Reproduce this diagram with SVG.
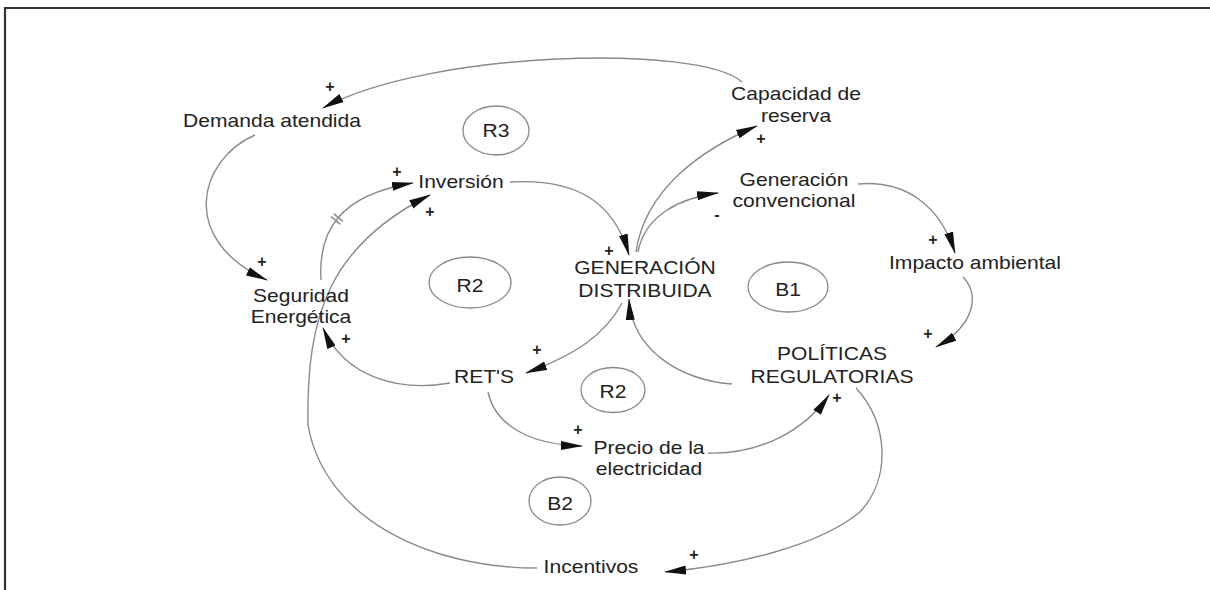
<svg xmlns="http://www.w3.org/2000/svg" width="1210" height="590" viewBox="0 0 1210 590">
<style>
.t{font-family:"Liberation Sans",Arial,sans-serif;font-size:18px;fill:#222;text-anchor:middle}
.s{font-family:"Liberation Sans",Arial,sans-serif;font-size:16px;font-weight:bold;fill:#222;text-anchor:middle}
.c{fill:none;stroke:#8a8a8a;stroke-width:1.4}
.loop{fill:none;stroke:#8a8a8a;stroke-width:1.3}
</style>
<defs>
<marker id="ah" markerUnits="userSpaceOnUse" markerWidth="22" markerHeight="10" viewBox="0 0 22 10" refX="21" refY="5" orient="auto">
<path d="M0,0.5 L22,5 L0,9.5 Z" fill="#111"/>
</marker>
</defs>
<rect width="1210" height="590" fill="#fff"/>
<path d="M5,590 V8 H1210" fill="none" stroke="#333" stroke-width="2.2"/>

<g id="connectors">
<path class="c" marker-end="url(#ah)" d="M742,82 C700,44 430,50 323,108"/>
<path class="c" marker-end="url(#ah)" d="M255,135 C198,160 178,240 267,280"/>
<path class="c" marker-end="url(#ah)" d="M321,280 C318,230 340,195 413,183"/>
<path class="c" d="M333.7,213.6 L342.9,221.4 M331.1,216.6 L340.3,224.4"/>
<path class="c" marker-end="url(#ah)" d="M537,568 C430,568 325,520 308,425 C306,315 330,245 430,195"/>
<path class="c" marker-end="url(#ah)" d="M450,383 C400,392 345,378 323,328"/>
<path class="c" marker-end="url(#ah)" d="M510,182 C580,178 615,205 629,255"/>
<path class="c" marker-end="url(#ah)" d="M636,252 C645,190 700,150 757,126"/>
<path class="c" marker-end="url(#ah)" d="M638,252 C645,215 680,198 718,193"/>
<path class="c" marker-end="url(#ah)" d="M858,184 C905,180 940,205 955,253"/>
<path class="c" marker-end="url(#ah)" d="M963,277 C980,295 975,325 936,347"/>
<path class="c" marker-end="url(#ah)" d="M732,384 C680,380 632,350 629,299"/>
<path class="c" marker-end="url(#ah)" d="M622,303 C605,335 575,355 526,373"/>
<path class="c" marker-end="url(#ah)" d="M488,392 C495,425 530,445 582,446"/>
<path class="c" marker-end="url(#ah)" d="M708,453 C760,455 805,430 829,395"/>
<path class="c" marker-end="url(#ah)" d="M856,388 C890,425 890,480 860,512 C820,545 740,565 665,572"/>
</g>

<g id="signs">
<text class="s" x="330" y="92">+</text>
<text class="s" x="262" y="267">+</text>
<text class="s" x="397" y="177">+</text>
<text class="s" x="430" y="217">+</text>
<text class="s" x="609" y="256">+</text>
<text class="s" x="761" y="144">+</text>
<text class="s" x="717" y="220">-</text>
<text class="s" x="933" y="245">+</text>
<text class="s" x="928" y="339">+</text>
<text class="s" x="346" y="344">+</text>
<text class="s" x="537" y="355">+</text>
<text class="s" x="578" y="435">+</text>
<text class="s" x="837" y="403">+</text>
<text class="s" x="694" y="560">+</text>
</g>

<g id="loop-R3"><ellipse class="loop" cx="496" cy="130.5" rx="33" ry="24.5"/><text class="t" transform="translate(496,137) scale(1.17,1)">R3</text></g>
<g id="loop-R2a"><ellipse class="loop" cx="470" cy="282.5" rx="41" ry="25.5"/><text class="t" transform="translate(470,292) scale(1.17,1)">R2</text></g>
<g id="loop-B1"><ellipse class="loop" cx="788" cy="287" rx="40" ry="25"/><text class="t" transform="translate(788,296) scale(1.17,1)">B1</text></g>
<g id="loop-R2b"><ellipse class="loop" cx="613" cy="390" rx="32" ry="22.5"/><text class="t" transform="translate(613,398) scale(1.17,1)">R2</text></g>
<g id="loop-B2"><ellipse class="loop" cx="560" cy="501" rx="31" ry="24"/><text class="t" transform="translate(560,510) scale(1.17,1)">B2</text></g>

<g id="demanda"><text class="t" transform="translate(272,127) scale(1.17,1)">Demanda atendida</text></g>
<g id="inversion"><text class="t" transform="translate(461,188) scale(1.17,1)">Inversión</text></g>
<g id="capacidad"><text class="t" transform="translate(796,100) scale(1.17,1)"><tspan x="0" y="0">Capacidad de</tspan><tspan x="0" y="22">reserva</tspan></text></g>
<g id="convencional"><text class="t" transform="translate(794,186) scale(1.17,1)"><tspan x="0" y="0">Generación</tspan><tspan x="0" y="21">convencional</tspan></text></g>
<g id="gd"><text class="t" transform="translate(645,274) scale(1.17,1)"><tspan x="0" y="0">GENERACIÓN</tspan><tspan x="0" y="23">DISTRIBUIDA</tspan></text></g>
<g id="impacto"><text class="t" transform="translate(975,269) scale(1.17,1)">Impacto ambiental</text></g>
<g id="politicas"><text class="t" transform="translate(832,360) scale(1.17,1)"><tspan x="0" y="0">POLÍTICAS</tspan><tspan x="0" y="23">REGULATORIAS</tspan></text></g>
<g id="seguridad"><text class="t" transform="translate(301,302) scale(1.17,1)"><tspan x="0" y="0">Seguridad</tspan><tspan x="0" y="21">Energética</tspan></text></g>
<g id="rets"><text class="t" transform="translate(484,383) scale(1.17,1)">RET'S</text></g>
<g id="precio"><text class="t" transform="translate(649,454) scale(1.17,1)"><tspan x="0" y="0">Precio de la</tspan><tspan x="0" y="21">electricidad</tspan></text></g>
<g id="incentivos"><text class="t" transform="translate(591,573) scale(1.17,1)">Incentivos</text></g>
</svg>
